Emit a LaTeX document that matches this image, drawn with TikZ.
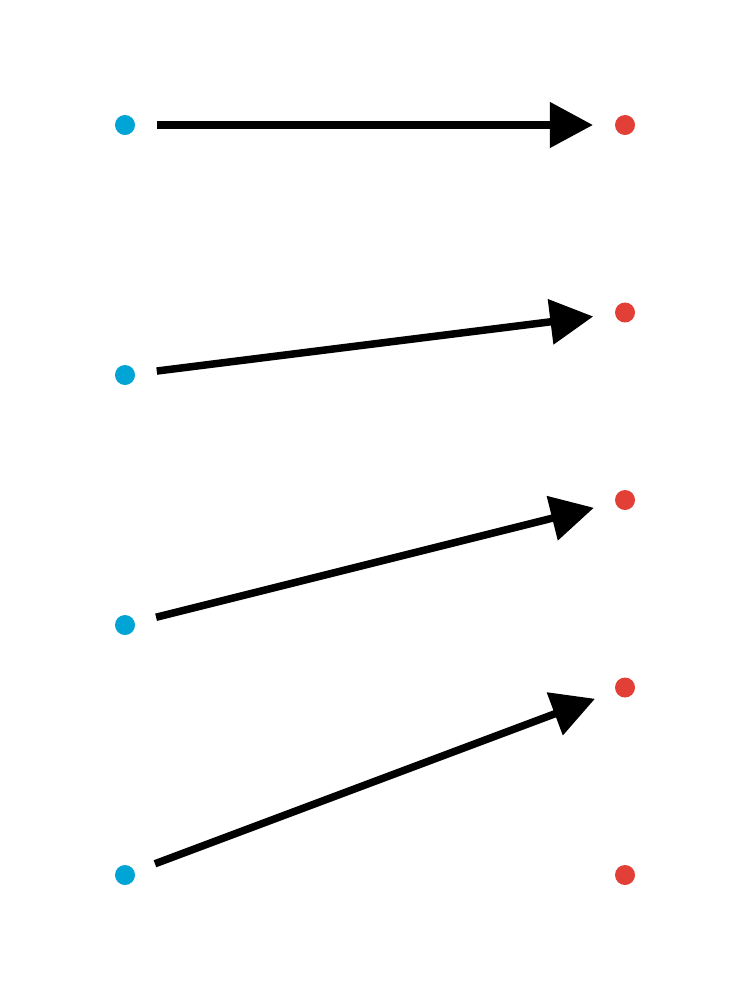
\documentclass[tikz,border=0pt]{standalone}
\usetikzlibrary{arrows.meta}
\definecolor{dotblue}{RGB}{0,165,214}
\definecolor{dotred}{RGB}{226,64,54}
\begin{document}
\begin{tikzpicture}[x=0.01cm,y=-0.01cm,
  srcdot/.style={circle,fill=dotblue,inner sep=0pt,minimum size=0.2cm,outer sep=0pt},
  dstdot/.style={circle,fill=dotred,inner sep=0pt,minimum size=0.2cm,outer sep=0pt},
  conn/.style={line width=0.075cm,-{Triangle[length=0.43cm,width=0.44cm]},shorten <=0.22cm,shorten >=0.22cm}]
\useasboundingbox (0,0) rectangle (750,1000);
\node[srcdot] (s1) at (125,125) {};
\node[srcdot] (s2) at (125,375) {};
\node[srcdot] (s3) at (125,625) {};
\node[srcdot] (s4) at (125,875) {};
\node[dstdot] (d1) at (625,125) {};
\node[dstdot] (d2) at (625,312.5) {};
\node[dstdot] (d3) at (625,500) {};
\node[dstdot] (d4) at (625,687.5) {};
\node[dstdot] (d5) at (625,875) {};
\draw[conn] (s1) -- (d1);
\draw[conn] (s2) -- (d2);
\draw[conn] (s3) -- (d3);
\draw[conn] (s4) -- (d4);
\end{tikzpicture}
\end{document}
